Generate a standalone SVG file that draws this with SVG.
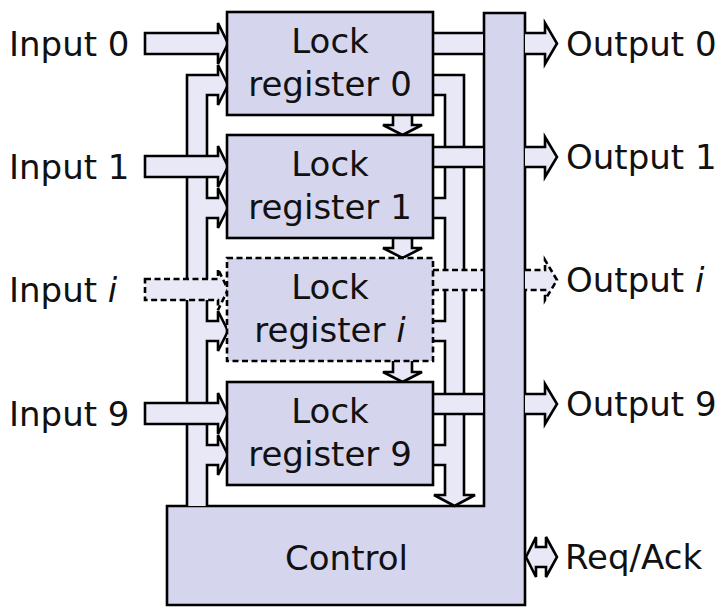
<svg xmlns="http://www.w3.org/2000/svg" width="721" height="607" viewBox="0 0 721 607">
<style>
.blk{fill:#d5d5ee;stroke:#000;stroke-width:2.6}
.arr{fill:#e8e8f6;stroke:#000;stroke-width:2.6;stroke-linejoin:miter}
.fillonly{fill:#e8e8f6;stroke:none}
.ln{fill:none;stroke:#000;stroke-width:2.6}
.dash{stroke-dasharray:6,3.5}
text{font-family:"DejaVu Sans","Liberation Sans",sans-serif;font-size:34px;fill:#111}
.c{text-anchor:middle}
</style>
<rect width="721" height="607" fill="#fff"/>
<g id="control">
<path class="blk" d="M484,13 H525 V605 H167 V506 H484 Z"/>
<text class="c" x="346.5" y="570">Control</text>
</g>
<g id="connectors">
<!-- left bus from control -->
<path class="arr" d="M187,506 V75 H218 V65 L228,85 L218,105 V95 H207 V198 H218 V188 L228,208 L218,228 V218 H207 V321 H218 V311 L228,331 L218,351 V341 H207 V445 H218 V435 L228,455 L218,475 V465 H207 V506"/>
<!-- right bus to control -->
<path class="fillonly" d="M433,75 H464 V495 H475 L454.5,506 L434,495 H445 V465 H433 V445 H445 V341 H433 V321 H445 V218 H433 V198 H445 V95 H433 Z"/>
<path class="ln" d="M433,75 H464 V495 H475 L454.5,506 L434,495 H445 V465 H433 M433,445 H445 V341 H433 M433,321 H445 V218 H433 M433,198 H445 V95 H433"/>
<!-- chain arrows -->
<path class="arr" d="M393,115 V125 H383 L402.5,135 L422,125 H412 V115"/>
<path class="arr" d="M393,238 V248 H383 L402.5,258 L422,248 H412 V238"/>
<path class="arr" d="M393,361 V372 H383 L402.5,382 L422,372 H412 V361"/>
<!-- inputs -->
<path class="arr" d="M145,33 H218 V23 L228,43.5 L218,64 V54 H145 Z"/>
<path class="arr" d="M145,156 H218 V146 L228,166.5 L218,187 V177 H145 Z"/>
<path class="arr dash" d="M145,279 H218 V269 L228,289.5 L218,310 V300 H145 Z"/>
<path class="arr" d="M145,403 H218 V393 L228,413.5 L218,434 V424 H145 Z"/>
<!-- output shafts to control -->
<rect class="fillonly" x="433" y="33" width="50" height="21"/>
<path class="ln" d="M433,33 H483 M433,54 H483"/>
<rect class="fillonly" x="433" y="147" width="50" height="20"/>
<path class="ln" d="M433,147 H483 M433,167 H483"/>
<rect class="fillonly" x="433" y="270" width="50" height="20"/>
<path class="ln dash" d="M433,270 H483 M433,290 H483"/>
<rect class="fillonly" x="433" y="394" width="50" height="20"/>
<path class="ln" d="M433,394 H483 M433,414 H483"/>
<!-- outputs from control -->
<path class="arr" d="M525,33 H545 V23 L557,43.5 L545,64 V54 H525"/>
<path class="arr" d="M525,147 H545 V137 L557,157 L545,177 V167 H525"/>
<path class="arr dash" d="M525,270 H545 V260 L557,280 L545,300 V290 H525"/>
<path class="arr" d="M525,394 H545 V384 L557,404 L545,424 V414 H525"/>
<!-- req/ack -->
<path class="arr" d="M526,557 L536,537 V547 H546 V537 L557,557 L546,577 V567 H536 V577 Z"/>
</g>
<g id="reg0">
<rect class="blk" x="227" y="12" width="206" height="103"/>
<text class="c" x="330" y="53">Lock</text>
<text class="c" x="330" y="96">register 0</text>
</g>
<g id="reg1">
<rect class="blk" x="227" y="135" width="206" height="103"/>
<text class="c" x="330" y="176">Lock</text>
<text class="c" x="330" y="219">register 1</text>
</g>
<g id="regi">
<rect class="blk dash" x="227" y="258" width="206" height="103"/>
<text class="c" x="330" y="299">Lock</text>
<text class="c" x="330" y="342">register <tspan font-style="italic">i</tspan></text>
</g>
<g id="reg9">
<rect class="blk" x="227" y="382" width="206" height="103"/>
<text class="c" x="330" y="423">Lock</text>
<text class="c" x="330" y="466">register 9</text>
</g>
<g id="labels">
<text x="9" y="56">Input 0</text>
<text x="9" y="179">Input 1</text>
<text x="9" y="302">Input <tspan font-style="italic">i</tspan></text>
<text x="9" y="426">Input 9</text>
<text x="566" y="56">Output 0</text>
<text x="566" y="169">Output 1</text>
<text x="566" y="292">Output <tspan font-style="italic">i</tspan></text>
<text x="566" y="416">Output 9</text>
<text x="565" y="569">Req/Ack</text>
</g>
</svg>
